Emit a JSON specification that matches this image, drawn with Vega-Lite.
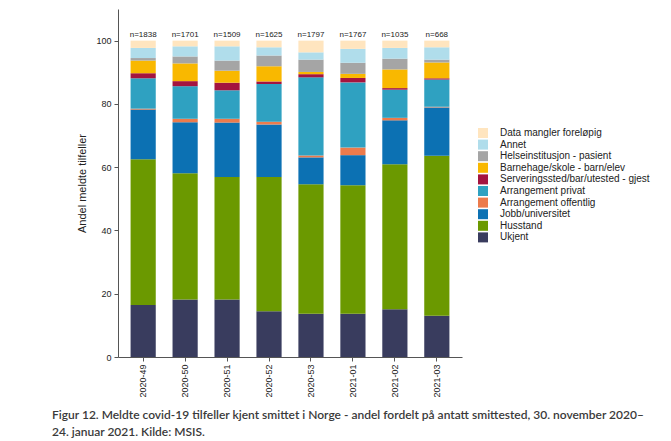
{
  "$schema": "https://vega.github.io/schema/vega-lite/v6.json",
  "width": 344,
  "height": 348,
  "autosize": "none",
  "padding": {"left": 118, "top": 9, "right": 209, "bottom": 84},
  "background": "white",
  "config": {
    "view": {"stroke": null},
    "font": "Liberation Sans",
    "axis": {"domainColor": "#555555", "tickColor": "#555555", "labelColor": "#222222", "titleColor": "#222222", "grid": false}
  },
  "title": {
    "text": "Figur 12. Meldte covid-19 tilfeller kjent smittet i Norge - andel fordelt på antatt smittested, 30. november 2020–",
    "subtitle": "24. januar 2021. Kilde: MSIS.",
    "orient": "bottom",
    "anchor": "start",
    "frame": "group",
    "dx": -66,
    "offset": 13,
    "font": "Lato",
    "fontSize": 12,
    "fontWeight": 600,
    "color": "#3a3a3a",
    "subtitleFont": "Lato",
    "subtitleFontSize": 12,
    "subtitleFontWeight": 600,
    "subtitleColor": "#3a3a3a",
    "subtitlePadding": 5
  },
  "datasets": {
    "shares": [
      {"uke": "2020-49", "kategori": "Ukjent", "andel": 16.4},
      {"uke": "2020-49", "kategori": "Husstand", "andel": 46.1},
      {"uke": "2020-49", "kategori": "Jobb/universitet", "andel": 15.7},
      {"uke": "2020-49", "kategori": "Arrangement offentlig", "andel": 0.3},
      {"uke": "2020-49", "kategori": "Arrangement privat", "andel": 9.6},
      {"uke": "2020-49", "kategori": "Serveringssted/bar/utested - gjest", "andel": 1.6},
      {"uke": "2020-49", "kategori": "Barnehage/skole - barn/elev", "andel": 4.0},
      {"uke": "2020-49", "kategori": "Helseinstitusjon - pasient", "andel": 0.8},
      {"uke": "2020-49", "kategori": "Annet", "andel": 3.2},
      {"uke": "2020-49", "kategori": "Data mangler foreløpig", "andel": 2.3},

      {"uke": "2020-50", "kategori": "Ukjent", "andel": 18.2},
      {"uke": "2020-50", "kategori": "Husstand", "andel": 39.9},
      {"uke": "2020-50", "kategori": "Jobb/universitet", "andel": 16.1},
      {"uke": "2020-50", "kategori": "Arrangement offentlig", "andel": 1.1},
      {"uke": "2020-50", "kategori": "Arrangement privat", "andel": 10.3},
      {"uke": "2020-50", "kategori": "Serveringssted/bar/utested - gjest", "andel": 1.6},
      {"uke": "2020-50", "kategori": "Barnehage/skole - barn/elev", "andel": 5.6},
      {"uke": "2020-50", "kategori": "Helseinstitusjon - pasient", "andel": 2.2},
      {"uke": "2020-50", "kategori": "Annet", "andel": 3.2},
      {"uke": "2020-50", "kategori": "Data mangler foreløpig", "andel": 1.8},

      {"uke": "2020-51", "kategori": "Ukjent", "andel": 18.2},
      {"uke": "2020-51", "kategori": "Husstand", "andel": 38.7},
      {"uke": "2020-51", "kategori": "Jobb/universitet", "andel": 17.2},
      {"uke": "2020-51", "kategori": "Arrangement offentlig", "andel": 1.2},
      {"uke": "2020-51", "kategori": "Arrangement privat", "andel": 9.0},
      {"uke": "2020-51", "kategori": "Serveringssted/bar/utested - gjest", "andel": 2.4},
      {"uke": "2020-51", "kategori": "Barnehage/skole - barn/elev", "andel": 3.8},
      {"uke": "2020-51", "kategori": "Helseinstitusjon - pasient", "andel": 3.2},
      {"uke": "2020-51", "kategori": "Annet", "andel": 4.5},
      {"uke": "2020-51", "kategori": "Data mangler foreløpig", "andel": 1.8},

      {"uke": "2020-52", "kategori": "Ukjent", "andel": 14.5},
      {"uke": "2020-52", "kategori": "Husstand", "andel": 42.4},
      {"uke": "2020-52", "kategori": "Jobb/universitet", "andel": 16.6},
      {"uke": "2020-52", "kategori": "Arrangement offentlig", "andel": 0.9},
      {"uke": "2020-52", "kategori": "Arrangement privat", "andel": 11.9},
      {"uke": "2020-52", "kategori": "Serveringssted/bar/utested - gjest", "andel": 0.8},
      {"uke": "2020-52", "kategori": "Barnehage/skole - barn/elev", "andel": 4.8},
      {"uke": "2020-52", "kategori": "Helseinstitusjon - pasient", "andel": 3.4},
      {"uke": "2020-52", "kategori": "Annet", "andel": 2.6},
      {"uke": "2020-52", "kategori": "Data mangler foreløpig", "andel": 2.1},

      {"uke": "2020-53", "kategori": "Ukjent", "andel": 13.7},
      {"uke": "2020-53", "kategori": "Husstand", "andel": 40.9},
      {"uke": "2020-53", "kategori": "Jobb/universitet", "andel": 8.5},
      {"uke": "2020-53", "kategori": "Arrangement offentlig", "andel": 0.6},
      {"uke": "2020-53", "kategori": "Arrangement privat", "andel": 24.7},
      {"uke": "2020-53", "kategori": "Serveringssted/bar/utested - gjest", "andel": 1.0},
      {"uke": "2020-53", "kategori": "Barnehage/skole - barn/elev", "andel": 0.7},
      {"uke": "2020-53", "kategori": "Helseinstitusjon - pasient", "andel": 3.9},
      {"uke": "2020-53", "kategori": "Annet", "andel": 2.3},
      {"uke": "2020-53", "kategori": "Data mangler foreløpig", "andel": 3.7},

      {"uke": "2021-01", "kategori": "Ukjent", "andel": 13.7},
      {"uke": "2021-01", "kategori": "Husstand", "andel": 40.6},
      {"uke": "2021-01", "kategori": "Jobb/universitet", "andel": 9.5},
      {"uke": "2021-01", "kategori": "Arrangement offentlig", "andel": 2.4},
      {"uke": "2021-01", "kategori": "Arrangement privat", "andel": 20.6},
      {"uke": "2021-01", "kategori": "Serveringssted/bar/utested - gjest", "andel": 1.4},
      {"uke": "2021-01", "kategori": "Barnehage/skole - barn/elev", "andel": 1.3},
      {"uke": "2021-01", "kategori": "Helseinstitusjon - pasient", "andel": 3.5},
      {"uke": "2021-01", "kategori": "Annet", "andel": 4.4},
      {"uke": "2021-01", "kategori": "Data mangler foreløpig", "andel": 2.6},

      {"uke": "2021-02", "kategori": "Ukjent", "andel": 15.1},
      {"uke": "2021-02", "kategori": "Husstand", "andel": 45.8},
      {"uke": "2021-02", "kategori": "Jobb/universitet", "andel": 13.9},
      {"uke": "2021-02", "kategori": "Arrangement offentlig", "andel": 0.8},
      {"uke": "2021-02", "kategori": "Arrangement privat", "andel": 8.9},
      {"uke": "2021-02", "kategori": "Serveringssted/bar/utested - gjest", "andel": 0.5},
      {"uke": "2021-02", "kategori": "Barnehage/skole - barn/elev", "andel": 5.9},
      {"uke": "2021-02", "kategori": "Helseinstitusjon - pasient", "andel": 3.4},
      {"uke": "2021-02", "kategori": "Annet", "andel": 3.4},
      {"uke": "2021-02", "kategori": "Data mangler foreløpig", "andel": 2.3},

      {"uke": "2021-03", "kategori": "Ukjent", "andel": 13.0},
      {"uke": "2021-03", "kategori": "Husstand", "andel": 50.6},
      {"uke": "2021-03", "kategori": "Jobb/universitet", "andel": 15.3},
      {"uke": "2021-03", "kategori": "Arrangement offentlig", "andel": 0.2},
      {"uke": "2021-03", "kategori": "Arrangement privat", "andel": 8.6},
      {"uke": "2021-03", "kategori": "Serveringssted/bar/utested - gjest", "andel": 0.4},
      {"uke": "2021-03", "kategori": "Barnehage/skole - barn/elev", "andel": 5.0},
      {"uke": "2021-03", "kategori": "Helseinstitusjon - pasient", "andel": 0.9},
      {"uke": "2021-03", "kategori": "Annet", "andel": 3.9},
      {"uke": "2021-03", "kategori": "Data mangler foreløpig", "andel": 2.1}
    ],
    "counts": [
      {"uke": "2020-49", "n": "n=1838"},
      {"uke": "2020-50", "n": "n=1701"},
      {"uke": "2020-51", "n": "n=1509"},
      {"uke": "2020-52", "n": "n=1625"},
      {"uke": "2020-53", "n": "n=1797"},
      {"uke": "2021-01", "n": "n=1767"},
      {"uke": "2021-02", "n": "n=1035"},
      {"uke": "2021-03", "n": "n=668"}
    ]
  },
  "layer": [
    {
      "data": {"name": "shares"},
      "transform": [
        {"calculate": "indexof(['Ukjent','Husstand','Jobb/universitet','Arrangement offentlig','Arrangement privat','Serveringssted/bar/utested - gjest','Barnehage/skole - barn/elev','Helseinstitusjon - pasient','Annet','Data mangler foreløpig'], datum.kategori)", "as": "rekkefolge"}
      ],
      "mark": {"type": "bar"},
      "encoding": {
        "x": {
          "field": "uke", "type": "nominal",
          "scale": {"paddingInner": 0.4, "paddingOuter": 0.3},
          "axis": {"title": null, "labelAngle": -90, "labelFontSize": 9, "labelPadding": 3, "tickSize": 4, "labelBaseline": "middle", "labelAlign": "right"}
        },
        "y": {
          "field": "andel", "type": "quantitative", "stack": "zero",
          "scale": {"domain": [0, 110], "nice": false},
          "axis": {"title": "Andel meldte tilfeller", "values": [0, 20, 40, 60, 80, 100], "labelFontSize": 9, "titleFontSize": 11, "titleFontWeight": "normal", "tickSize": 4, "labelPadding": 3, "titlePadding": 8}
        },
        "color": {
          "field": "kategori", "type": "nominal",
          "scale": {
            "domain": ["Data mangler foreløpig", "Annet", "Helseinstitusjon - pasient", "Barnehage/skole - barn/elev", "Serveringssted/bar/utested - gjest", "Arrangement privat", "Arrangement offentlig", "Jobb/universitet", "Husstand", "Ukjent"],
            "range": ["#FFE5BF", "#B0DDEB", "#A5A5A5", "#F9B800", "#A4143F", "#2FA1C1", "#EC7B4C", "#0C71B3", "#6B9900", "#393C5E"]
          },
          "legend": {
            "title": null,
            "orient": "none",
            "legendX": 360,
            "legendY": 119,
            "padding": 0,
            "symbolType": "square",
            "symbolSize": 100,
            "symbolStrokeWidth": 0,
            "symbolOpacity": 1,
            "labelFontSize": 10,
            "labelColor": "#222222",
            "labelOffset": 12,
            "rowPadding": 1.6,
            "labelLimit": 300
          }
        },
        "order": {"field": "rekkefolge", "type": "quantitative", "sort": "ascending"}
      }
    },
    {
      "data": {"name": "counts"},
      "mark": {"type": "text", "fontSize": 8, "color": "#222222", "baseline": "bottom", "dy": -2},
      "encoding": {
        "x": {"field": "uke", "type": "nominal"},
        "y": {"datum": 100},
        "text": {"field": "n"}
      }
    }
  ]
}
